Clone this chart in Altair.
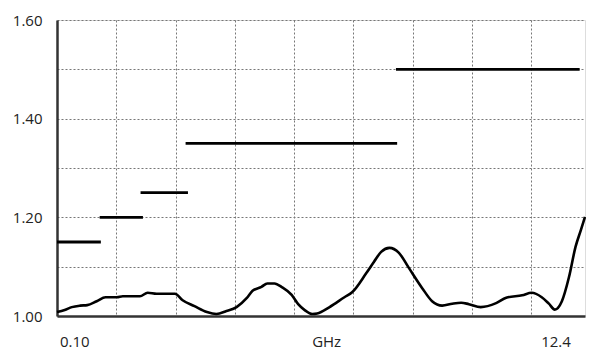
import altair as alt
import pandas as pd

# Measured VSWR curve (x in grid-division units from left edge, 0.10 GHz .. 12.4 GHz)
curve_x = [0.00, 0.13, 0.25, 0.39, 0.51, 0.67, 0.82, 1.01, 1.11, 1.40, 1.53, 1.68,
           1.99, 2.12, 2.32, 2.53, 2.69, 2.86, 3.03, 3.20, 3.30, 3.45, 3.55, 3.67,
           3.80, 3.96, 4.07, 4.18, 4.31, 4.39, 4.60, 4.85, 4.98, 5.22, 5.35, 5.47,
           5.61, 5.77, 5.94, 6.16, 6.33, 6.50, 6.67, 6.82, 6.95, 7.15, 7.41, 7.58,
           7.85, 8.01, 8.18, 8.30, 8.40, 8.52, 8.64, 8.75, 8.84, 8.91]
curve_vswr = [1.008, 1.012, 1.018, 1.021, 1.022, 1.030, 1.038, 1.038, 1.040, 1.040, 1.047, 1.045,
              1.045, 1.032, 1.020, 1.008, 1.004, 1.010, 1.018, 1.036, 1.051, 1.059, 1.066, 1.066,
              1.058, 1.043, 1.024, 1.012, 1.004, 1.005, 1.018, 1.038, 1.048, 1.087, 1.110, 1.130,
              1.138, 1.128, 1.097, 1.057, 1.030, 1.021, 1.025, 1.027, 1.024, 1.018, 1.026, 1.037,
              1.042, 1.047, 1.038, 1.025, 1.013, 1.030, 1.079, 1.140, 1.174, 1.201]

# Specification limit steps
spec_start = [0.00, 0.72, 1.41, 2.17, 5.72]
spec_end = [0.74, 1.45, 2.21, 5.74, 8.82]
spec_value = [1.15, 1.20, 1.25, 1.35, 1.50]

# Bottom labels
x_label_pos = [0.30, 4.55, 8.42]
x_label_text = ["0.10", "GHz", "12.4"]

grid_x = [1, 2, 3, 4, 5, 6, 7, 8]
grid_y = [1.0, 1.1, 1.2, 1.3, 1.4, 1.5, 1.6]

curve_df = pd.DataFrame({"x": curve_x, "v": curve_vswr})
spec_df = pd.DataFrame({"x": spec_start, "x2": spec_end, "v": spec_value})
lab_df = pd.DataFrame({"x": x_label_pos, "t": x_label_text})

FONT = "Open Sans"
xs = alt.Scale(domain=[0, 8.91], nice=False, zero=False)
ys = alt.Scale(domain=[1.0, 1.6], nice=False, zero=False)

x_axis = alt.Axis(values=grid_x, labels=False, ticks=False, title=None,
                  grid=True, gridDash=[2, 2], gridColor="#777", gridWidth=1,
                  domainColor="#333", domainWidth=2.5)
y_axis = alt.Axis(values=grid_y, ticks=False, title=None,
                  labelExpr="round(datum.value*10) % 2 == 0 ? format(datum.value, '.2f') : ''",
                  labelFont=FONT, labelFontSize=15, labelColor="#222", labelPadding=15,
                  grid=True, gridDash=[2, 2], gridColor="#777", gridWidth=1,
                  domainColor="#333", domainWidth=2.5)

curve = alt.Chart(curve_df).mark_line(color="#000", strokeWidth=2.6, interpolate="monotone").encode(
    x=alt.X("x:Q", scale=xs, axis=x_axis),
    y=alt.Y("v:Q", scale=ys, axis=y_axis),
)

spec = alt.Chart(spec_df).mark_rule(color="#000", strokeWidth=2.8).encode(
    x=alt.X("x:Q", scale=xs),
    x2="x2:Q",
    y=alt.Y("v:Q", scale=ys),
)

labels = alt.Chart(lab_df).mark_text(font=FONT, fontSize=15, color="#222", baseline="middle").encode(
    x=alt.X("x:Q", scale=xs),
    y=alt.value(322),
    text="t:N",
)

chart = alt.layer(spec, curve, labels).properties(
    width=528, height=296,
    autosize=alt.AutoSizeParams(type="none"),
    padding={"left": 49, "top": 12, "right": 1, "bottom": 34},
).configure_view(stroke="#333", strokeWidth=1.5).configure(background="white")

chart.save("out.html", embed_options={"renderer": "svg", "actions": False})
